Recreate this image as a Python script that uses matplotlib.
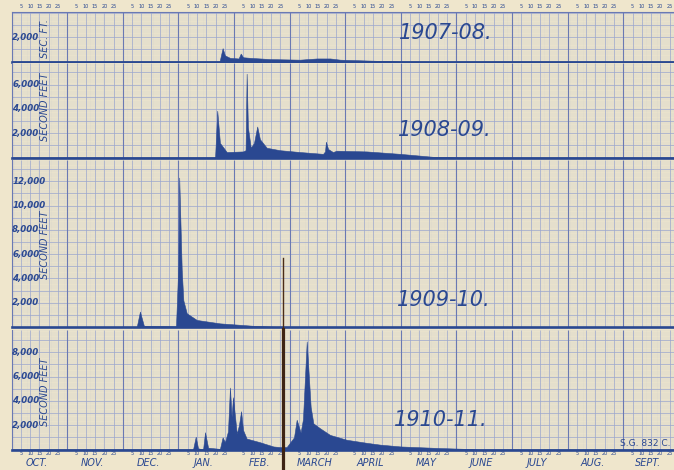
import numpy as np
import matplotlib
matplotlib.use("Agg")
import matplotlib.pyplot as plt
import matplotlib.transforms as mtransforms
from matplotlib.lines import Line2D

# ---------------- data ----------------
months = ["OCT.", "NOV.", "DEC.", "JAN.", "FEB.", "MARCH",
          "APRIL", "MAY", "JUNE", "JULY", "AUG.", "SEPT."]
day_ticks = [5, 10, 15, 20, 25]
years = ["1907-08.", "1908-09.", "1909-10.", "1910-11."]

# time axis in chart days: every month drawn 31 days wide, starting Oct 1
t_0708 = [0, 115.9, 117.6, 118.9, 121.7, 126.5, 127.7, 129.0, 132.9, 144.0,
          160.7, 170.2, 177.5, 183.1, 194.2, 205.4, 216.5, 369]
q_0708 = [0, 0, 1100, 500, 300, 250, 650, 350, 300, 200,
          150, 250, 250, 150, 100, 50, 0, 0]

t_0809 = [0, 113.4, 114.6, 116.1, 119.9, 129.0, 130.4, 131.0, 131.7, 133.3,
          135.1, 136.9, 138.4, 142.2, 149.6, 160.7, 173.6, 174.7, 175.2, 176.4,
          179.1, 181.2, 197.9, 216.5, 235.5, 250.0, 369]
q_0809 = [0, 0, 3850, 1200, 450, 500, 600, 6900, 2500, 800,
          1200, 2550, 1500, 800, 600, 450, 300, 500, 1300, 700,
          450, 560, 500, 300, 50, 0, 0]

t_0910 = [0, 69.7, 71.5, 73.7, 91.6, 92.9, 93.4, 94.8, 95.7, 97.6,
          103.2, 116.1, 134.7, 149.6, 369]
q_0910 = [0, 0, 1270, 100, 50, 5000, 12300, 4700, 2200, 1130,
          580, 300, 100, 0, 0]

t_1011 = [0, 101.1, 102.6, 103.9, 106.7, 107.8, 109.5, 116.1, 117.6, 118.9,
          120.6, 121.7, 122.6, 123.4, 125.5, 126.7, 127.9, 129.0, 131.0, 138.4,
          145.9, 149.6, 153.3, 157.4, 158.9, 161.1, 162.4, 164.5, 166.7, 168.2,
          171.9, 177.5, 186.8, 197.9, 205.4, 216.9, 238.8, 253.9, 259.5, 369]
q_1011 = [0, 0, 1050, 100, 0, 1420, 150, 50, 1000, 600,
          1500, 5100, 2700, 4300, 1300, 2000, 3150, 1600, 900, 600,
          250, 200, 200, 1000, 2450, 1400, 2500, 8900, 3500, 2150,
          1750, 1200, 800, 550, 400, 250, 120, 50, 0, 0]

ylab_0708 = [2000]
ylab_0809 = [2000, 4000, 6000]
ylab_0910 = [2000, 4000, 6000, 8000, 10000, 12000]
ylab_1011 = [2000, 4000, 6000, 8000]
unit_labels = ["SEC. FT.", "SECOND FEET", "SECOND FEET", "SECOND FEET"]

# ---------------- style ----------------
W, H = 674, 470
paper = "#EFE6CC"
ink = "#2A4891"
c_month = "#6A79B3"
c_med = "#9BA6CE"
c_fine = "#D2D2CF"

fig = plt.figure(figsize=(W / 100, H / 100), dpi=100, facecolor=paper)

px_per_day = 1.7935
x_left = 11.7
xmax = (W - x_left) / px_per_day
px_per_k = 12.15  # pixels per 1000 cfs

panels_px = [(12, 61.5), (63, 157.5), (159.5, 327), (329.5, 449.5)]
series = [(t_0708, q_0708, ylab_0708), (t_0809, q_0809, ylab_0809),
          (t_0910, q_0910, ylab_0910), (t_1011, q_1011, ylab_1011)]
year_pos = [(446, 33), (445, 130), (444, 300), (441, 420)]
unit_pos = [38.5, 107, 245, 392]

axes = []
for i, ((top, bot), (t, q, ylabs)) in enumerate(zip(panels_px, series)):
    ax = fig.add_axes([x_left / W, 1 - bot / H, (W - x_left) / W, (bot - top) / H])
    ax.set_facecolor(paper)
    ymax = (bot - top) / px_per_k * 1000
    ax.set_xlim(0, xmax)
    ax.set_ylim(0, ymax)
    # graph-paper grid
    fine_x = np.arange(0, 372.01, 31 / 30)
    ax.vlines(fine_x, 0, 1, transform=ax.get_xaxis_transform(), color=c_fine, lw=0.25, zorder=0.2)
    med_x = [m * 31 + k * 31 / 6 for m in range(12) for k in range(1, 6)]
    ax.vlines(med_x, 0, 1, transform=ax.get_xaxis_transform(), color=c_med, lw=0.5, zorder=0.3)
    ax.vlines([m * 31 for m in range(13)], 0, 1, transform=ax.get_xaxis_transform(),
              color=c_month, lw=0.8, zorder=0.4)
    ax.hlines(np.arange(0, ymax, 200), 0, 1, transform=ax.get_yaxis_transform(),
              color=c_fine, lw=0.25, zorder=0.2)
    ax.hlines(np.arange(0, ymax, 1000), 0, 1, transform=ax.get_yaxis_transform(),
              color=c_med, lw=0.5, zorder=0.3)
    # hydrograph
    ax.fill_between(t, q, 0, color=ink, lw=0.4, edgecolor=ink, zorder=2)
    ax.set_xticks([])
    ax.set_yticks([])
    ax.spines["right"].set_visible(False)
    ax.spines["top"].set_visible(i == 0)
    ax.spines["top"].set_color(c_month)
    ax.spines["top"].set_linewidth(0.8)
    ax.spines["left"].set_color(c_month)
    ax.spines["left"].set_linewidth(0.8)
    ax.spines["bottom"].set_color(ink)
    ax.spines["bottom"].set_linewidth(1.9)
    ax.spines["bottom"].set_zorder(3)
    # y labels
    for v in ylabs:
        ax.text(0.3, v, f"{v:,}", fontsize=6.2, style="italic", fontweight="bold",
                color=ink, ha="left", va="center", zorder=4)
    # unit label
    ax.text((45 - x_left) / px_per_day, 1 - (unit_pos[i] - top) / (bot - top),
            unit_labels[i], transform=ax.get_xaxis_transform(), rotation=90,
            fontsize=7, style="italic", color=ink, ha="center", va="center", zorder=4)
    # year label
    yx, yy = year_pos[i]
    fig.text(yx / W, 1 - yy / H, years[i], fontsize=15, style="italic",
             color=ink, ha="center", va="center", zorder=5)
    axes.append(ax)

# day ticks along top and bottom, month names at bottom
trans_top = mtransforms.blended_transform_factory(axes[0].transData, fig.transFigure)
trans_bot = mtransforms.blended_transform_factory(axes[-1].transData, fig.transFigure)
for m, name in enumerate(months):
    for k, d in enumerate(day_ticks):
        xx = m * 31 + (k + 1) * 31 / 6
        if xx < xmax - 1:
            axes[0].text(xx, 1 - 7 / H, str(d), transform=trans_top, fontsize=3.6,
                         color=ink, ha="center", va="center")
            axes[-1].text(xx, 1 - 453.5 / H, str(d), transform=trans_bot, fontsize=3.6,
                          color=ink, ha="center", va="center")
    axes[-1].text(m * 31 + 14, 1 - 462.5 / H, name, transform=trans_bot, fontsize=7,
                  style="italic", color=ink, ha="center", va="center")

fig.text(671 / W, 1 - 444 / H, "S.G. 832 C.", fontsize=6.5, color=ink,
         ha="right", va="center", zorder=6)

# fold crease in the scanned sheet
fig.add_artist(Line2D([283 / W, 283 / W], [1 - 258 / H, 1 - 328 / H],
                      color="#4A2C18", lw=1.0, zorder=10))
fig.add_artist(Line2D([283 / W, 283 / W], [0, 1 - 329 / H],
                      color="#3E2414", lw=2.3, zorder=10))

fig.savefig("out.png", dpi=100, facecolor=paper)
